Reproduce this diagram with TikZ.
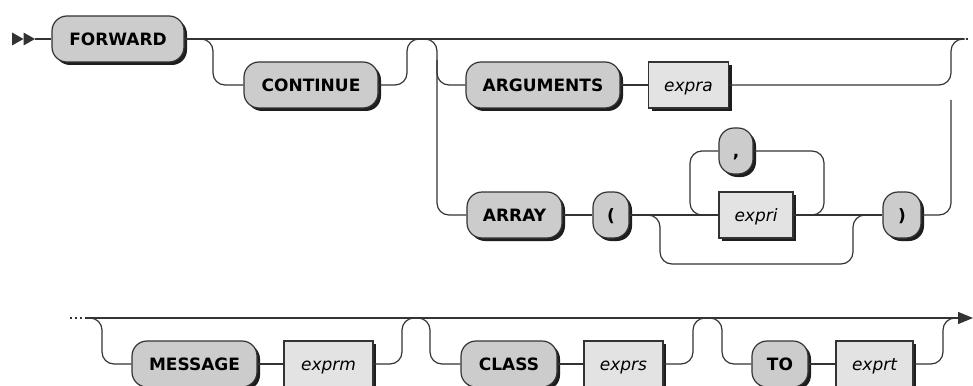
\documentclass[tikz,border=0pt]{standalone}
\usepackage{fontspec}
\setmainfont{DejaVu Sans}
\usetikzlibrary{shadows,arrows.meta}
\definecolor{rail}{HTML}{333333}
\definecolor{kwfill}{HTML}{CCCCCC}
\definecolor{ntfill}{HTML}{E3E3E3}
\definecolor{shadowc}{HTML}{1E1E1E}
\begin{document}
\begin{tikzpicture}[x=1pt,y=-1pt,line width=1.2pt,
  boxbase/.style={draw=rail, minimum height=46pt, inner sep=0pt,
    text height=12.4pt, text depth=0pt, text=black,
    general shadow={fill=shadowc, shadow xshift=3pt, shadow yshift=-3pt}},
  kw/.style={boxbase, fill=kwfill, rounded corners=15pt,
    font=\fontsize{17}{20}\selectfont\bfseries},
  nt/.style={boxbase, fill=ntfill, sharp corners,
    font=\fontsize{17}{20}\selectfont\itshape},
  rc/.style={draw=rail, rounded corners=12pt},
  dots/.style={draw=rail, dash pattern=on 2pt off 3pt}]
\useasboundingbox (0,0) rectangle (973,385);

% ---------- nodes, top row ----------
\node[kw, minimum width=132pt] (FORWARD)   at (118,39)   {FORWARD};
\node[kw, minimum width=134pt] (CONTINUE)  at (311,85)   {CONTINUE};
\node[kw, minimum width=154pt] (ARGUMENTS) at (543,85)   {ARGUMENTS};
\node[nt, minimum width=80pt]  (expra)     at (688.5,85) {expra};
\node[kw, minimum width=95pt]  (ARRAY)     at (514.5,215){ARRAY};
\node[kw, minimum width=36pt]  (lparen)    at (611,215)  {(};
\node[kw, minimum width=34pt]  (comma)     at (736,151)  {,};
\node[nt, minimum width=74pt]  (expri)     at (756,215)  {expri};
\node[kw, minimum width=38pt]  (rparen)    at (902,215)  {)};

% ---------- nodes, bottom row ----------
\node[kw, minimum width=125pt] (MESSAGE) at (194.5,364) {MESSAGE};
\node[nt, minimum width=89pt]  (exprm)   at (328.5,364) {exprm};
\node[kw, minimum width=96pt]  (CLASS)   at (509,364)   {CLASS};
\node[nt, minimum width=79pt]  (exprs)   at (623.5,364) {exprs};
\node[kw, minimum width=56pt]  (TO)      at (780,364)   {TO};
\node[nt, minimum width=77pt]  (exprt)   at (874.5,364) {exprt};

% ---------- junction coordinates ----------
\coordinate (s)   at (35,39);
\coordinate (topend) at (962,39);
\coordinate (a1)  at (199,39);
\coordinate (a2)  at (213,85);
\coordinate (a3)  at (407,39);
\coordinate (a4)  at (421,39);
\coordinate (c1)  at (423,39);
\coordinate (c2)  at (437,215);
\coordinate (c3)  at (437,60);
\coordinate (r1)  at (951,39);
\coordinate (r2)  at (965,39);
\coordinate (r3)  at (951,100);
\coordinate (b1)  at (647,215);
\coordinate (b2)  at (660,264);
\coordinate (b3)  at (853,215);
\coordinate (b4)  at (867,215);
\coordinate (l1)  at (690,151);
\coordinate (l2)  at (824,151);

\coordinate (d0)  at (70,318);
\coordinate (d1)  at (87,318);
\coordinate (botend) at (973,318);
\coordinate (m1)  at (88,318);
\coordinate (m2)  at (102,364);
\coordinate (m3)  at (402,318);
\coordinate (m4)  at (416,318);
\coordinate (k2)  at (430,364);
\coordinate (n3)  at (693,318);
\coordinate (n4)  at (707,318);
\coordinate (t1)  at (708,318);
\coordinate (t2)  at (722,364);
\coordinate (e3)  at (943,318);
\coordinate (e4)  at (957,318);

% ---------- start marker ----------
\fill[rail] (12,32.5) -- (23.5,39) -- (12,45.5) -- cycle;
\fill[rail] (23.5,32.5) -- (35,39) -- (23.5,45.5) -- cycle;
\draw[rail] (s) -- (FORWARD.west);

% ---------- top rails ----------
\draw[rail] (FORWARD.east) -- (topend);
\draw[dots, dash pattern=on 1.5pt off 2.5pt] (topend) -- (969,39);
\draw[rc] (a1) -| (a2) -- (CONTINUE.west);
\draw[rc] (CONTINUE.east) -| (a3) -- (a4);
\draw[rc] (c1) -| (c2) -- (ARRAY.west);
\draw[rc] (c3) |- (ARGUMENTS.west);
\draw[rail] (ARGUMENTS.east) -- (expra.west);
\draw[rc] (expra.east) -| (r1) -- (r2);
\draw[rc] (rparen.east) -| (r3);
\draw[rail] (ARRAY.east) -- (lparen.west);
\draw[rail] (lparen.east) -- (expri.west);
\draw[rc] (b1) -| (b2) -| (b3) -- (b4);
\draw[rail] (expri.east) -- (rparen.west);
\draw[rc] (expri.west) -| (l1) -- (comma.west);
\draw[rc] (expri.east) -| (l2) -- (comma.east);

% ---------- bottom rails ----------
\draw[dots] (d0) -- (d1);
\draw[rail, -{Triangle[length=15pt,width=12pt]}] (d1) -- (botend);
\draw[rc] (m1) -| (m2) -- (MESSAGE.west);
\draw[rail] (MESSAGE.east) -- (exprm.west);
\draw[rc] (exprm.east) -| (m3) -- (m4);
\draw[rc] (m4) -| (k2) -- (CLASS.west);
\draw[rail] (CLASS.east) -- (exprs.west);
\draw[rc] (exprs.east) -| (n3) -- (n4);
\draw[rc] (t1) -| (t2) -- (TO.west);
\draw[rail] (TO.east) -- (exprt.west);
\draw[rc] (exprt.east) -| (e3) -- (e4);
\end{tikzpicture}
\end{document}
